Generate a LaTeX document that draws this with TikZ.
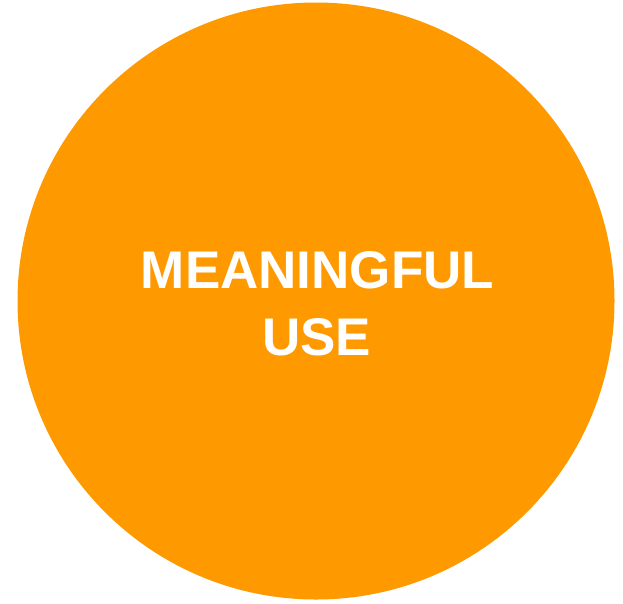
\documentclass[tikz,border=0pt]{standalone}
\usepackage{fontspec}
\setmainfont{Liberation Sans}
\usetikzlibrary{positioning}
\definecolor{mustorange}{RGB}{255,153,0}

\begin{document}
\begin{tikzpicture}
	[x=1pt,y=-1pt,
	disc/.style={circle,fill=mustorange,draw=none,inner sep=0pt,minimum size=597pt},
	label/.style={text=white,inner sep=0pt,font=\fontsize{53}{67}\selectfont\bfseries}]
	\useasboundingbox (0,0) rectangle (623,603);
	\node at (316,301) [disc] (circle) {};
	\node at (317.5,288) [label,anchor=base] (meaning) {MEANINGFUL};
	\node at (316.5,355) [label,anchor=base] (use) {USE};
\end{tikzpicture}
\end{document}
